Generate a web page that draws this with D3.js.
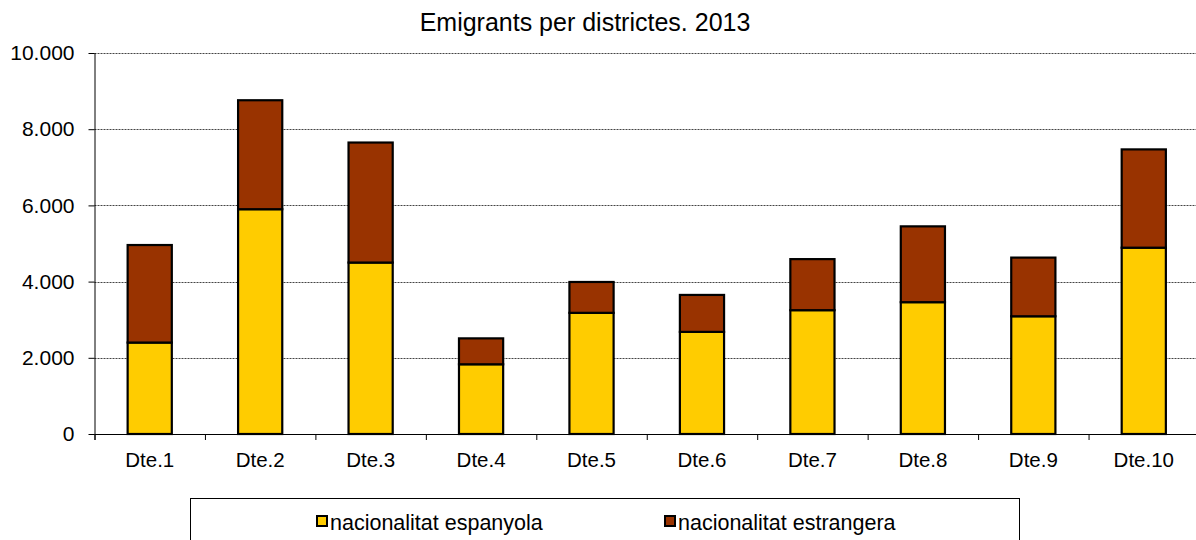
<!DOCTYPE html>
<html>
<head>
<meta charset="utf-8">
<script src="https://cdn.jsdelivr.net/npm/d3@7"></script>
<style>
  html, body { margin: 0; padding: 0; background: #fff; }
  svg { display: block; font-family: Arial, "Liberation Sans", sans-serif; }
</style>
</head>
<body>
<svg id="chart" width="1196" height="540"></svg>
<script>
const title = "Emigrants per districtes. 2013";
const categories = ["Dte.1","Dte.2","Dte.3","Dte.4","Dte.5","Dte.6","Dte.7","Dte.8","Dte.9","Dte.10"];
const espanyola  = [2400, 5900, 4500, 1830, 3180, 2680, 3250, 3460, 3090, 4890];
const estrangera = [2560, 2860, 3150,  680,  810,  970, 1340, 1990, 1540, 2580];
const seriesNames = ["nacionalitat espanyola", "nacionalitat estrangera"];
const seriesColors = ["#FFCC00", "#993300"];
const yTicks = [0, 2000, 4000, 6000, 8000, 10000];

const svg = d3.select("#chart");
const pLeft = 94.5, pRight = 1199, pTop = 53, pBottom = 434;

const x = d3.scaleBand().domain(categories).range([pLeft, pRight]).paddingInner(0.6).paddingOuter(0.3);
const y = d3.scaleLinear().domain([0, 10000]).range([pBottom, pTop]);
const fmt = d => d3.format(",")(d).replace(/,/g, ".");

// gridlines
svg.append("g").selectAll("line").data(yTicks.filter(d => d > 0)).join("line")
  .attr("x1", pLeft).attr("x2", 1196)
  .attr("y1", d => Math.round(y(d)) + 0.5).attr("y2", d => Math.round(y(d)) + 0.5)
  .attr("stroke", "#444").attr("stroke-width", 1).attr("stroke-dasharray", "2,1");

// stacked bars
const rows = categories.map((c, i) => ({cat: c, espanyola: espanyola[i], estrangera: estrangera[i]}));
const stack = d3.stack().keys(["espanyola", "estrangera"])(rows);
svg.append("g").selectAll("g").data(stack).join("g")
  .attr("fill", (d, i) => seriesColors[i])
  .selectAll("rect").data(d => d).join("rect")
  .attr("x", d => x(d.data.cat))
  .attr("width", x.bandwidth())
  .attr("y", d => y(d[1]))
  .attr("height", d => y(d[0]) - y(d[1]))
  .attr("stroke", "#000").attr("stroke-width", 2.2);

// y axis
const yAxis = svg.append("g").attr("transform", `translate(${pLeft},0)`)
  .call(d3.axisLeft(y).tickValues(yTicks).tickFormat(fmt).tickSize(6).tickPadding(14).tickSizeOuter(0));
yAxis.select(".domain").attr("stroke", "#000").attr("d", `M0.5,${pTop}V${pBottom + 6}`);
yAxis.selectAll(".tick line").attr("stroke", "#000");
yAxis.selectAll("text").attr("font-size", 21).attr("fill", "#000").attr("font-family", "Arial, 'Liberation Sans', sans-serif");

// x axis: boundary ticks
const xb = d3.scaleLinear().domain([0, categories.length]).range(x.range());
const xAxisT = svg.append("g").attr("transform", `translate(0,${pBottom})`)
  .call(d3.axisBottom(xb).ticks(categories.length).tickFormat("").tickSize(6).tickSizeOuter(0));
xAxisT.select(".domain").attr("stroke", "#000").attr("d", `M${pLeft},0.5H1196`);
xAxisT.selectAll(".tick line").attr("stroke", "#000");

// x labels
const xAxisL = svg.append("g").attr("transform", `translate(0,${pBottom})`)
  .call(d3.axisBottom(x).tickSize(0).tickPadding(18));
xAxisL.select(".domain").remove();
xAxisL.selectAll("text").attr("font-size", 20.5).attr("fill", "#000").attr("font-family", "Arial, 'Liberation Sans', sans-serif");

// title
svg.append("text").attr("x", 585).attr("y", 31).attr("text-anchor", "middle")
  .attr("font-size", 25).attr("fill", "#000").text(title);

// legend
svg.append("rect").attr("x", 190.5).attr("y", 498.5).attr("width", 829).attr("height", 60)
  .attr("fill", "#fff").attr("stroke", "#000").attr("stroke-width", 1);
const legX = [316, 664];
const leg = svg.append("g").selectAll("g").data(seriesNames).join("g")
  .attr("transform", (d, i) => `translate(${legX[i]},0)`);
leg.append("rect").attr("x", 1).attr("y", 516).attr("width", 10).attr("height", 10)
  .attr("fill", (d, i) => seriesColors[i]).attr("stroke", "#000").attr("stroke-width", 2);
leg.append("text").attr("x", 14).attr("y", 530).attr("font-size", 21.5).attr("fill", "#000").text(d => d);
</script>
</body>
</html>
